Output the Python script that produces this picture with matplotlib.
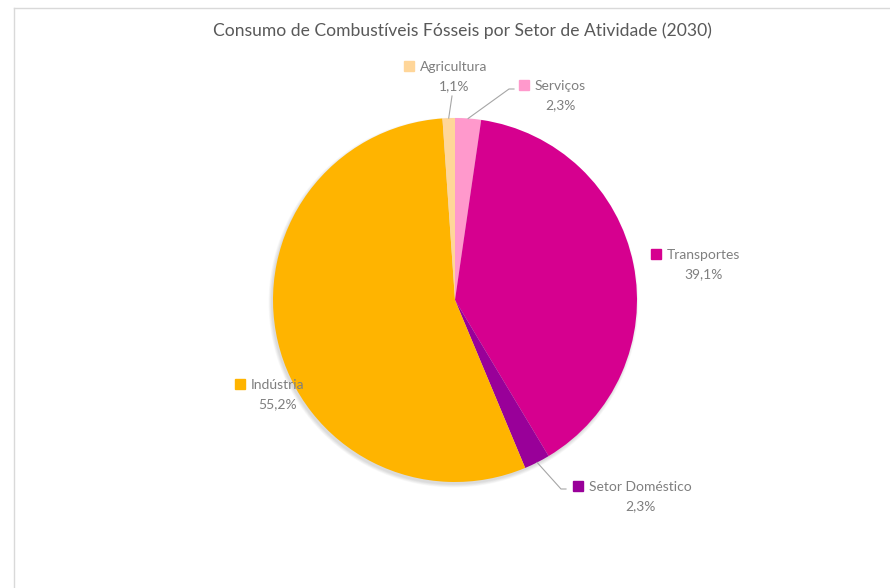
import matplotlib.pyplot as plt
from matplotlib.patches import Circle
import numpy as np

# Consumo por setor em 2030 (percentagem)
setores = ["Serviços", "Transportes", "Setor Doméstico", "Indústria", "Agricultura"]
valores = [2.3, 39.1, 2.3, 55.2, 1.1]
cores = ["#FF99CC", "#D6008F", "#990099", "#FFB400", "#FFD699"]
titulo = "Consumo de Combustíveis Fósseis por Setor de Atividade (2030)"

# posicao dos rotulos (pixeis, origem no canto superior esquerdo)
pos_rotulos = {
    "Serviços": (524, 85),
    "Transportes": (656, 254),
    "Setor Doméstico": (578, 486),
    "Indústria": (240, 384),
    "Agricultura": (409, 66),
}
# setores com linha de ligacao: ponto do cotovelo
cotovelos = {
    "Serviços": [(509, 89), (514, 89)],
    "Agricultura": [(452, 96)],
    "Setor Doméstico": [(561, 489), (566, 489)],
}

W, H = 890, 588
CX, CY, R = 455, 300, 182
FONTE = "Lato"
CINZA = "#7F7F7F"


def px(x, y):
    # converte pixeis (y para baixo) em coordenadas do eixo
    return x, H - y


fig = plt.figure(figsize=(W / 100, H / 100), dpi=100)
ax = fig.add_axes([0, 0, 1, 1])
ax.set_xlim(0, W)
ax.set_ylim(0, H)
ax.set_aspect("equal")
ax.axis("off")

# moldura do grafico
ax.plot([14, W + 5], [H - 8, H - 8], color="#D9D9D9", lw=1)
ax.plot([14, 14], [H - 8, -5], color="#D9D9D9", lw=1)

# sombra suave
for i in range(6):
    ax.add_patch(Circle(px(CX - 1.5, CY + 2.5), R + 3 - i * 0.6,
                        color="black", alpha=0.025, lw=0, zorder=1))

wedges, _ = ax.pie(valores, colors=cores, startangle=90, counterclock=False,
                   center=px(CX, CY), radius=R, frame=True,
                   wedgeprops=dict(linewidth=0, zorder=2))
ax.set_xlim(0, W)
ax.set_ylim(0, H)
ax.axis("off")

fig.canvas.draw()
renderer = fig.canvas.get_renderer()

for w, nome, cor, v in zip(wedges, setores, cores, valores):
    sx, sy = pos_rotulos[nome]
    ax.plot(*px(sx, sy), marker="s", ms=6.5, color=cor, mec=cor, zorder=5)
    t = ax.text(*px(sx + 11, sy + 1), nome, ha="left", va="center",
                fontsize=10, color=CINZA, family=FONTE, zorder=5)
    bb = t.get_window_extent(renderer)
    meio = (bb.x0 + bb.x1) / 2
    ax.text(*px(meio, sy + 20), f"{v:.1f}".replace(".", ",") + "%",
            ha="center", va="center", fontsize=10, color=CINZA,
            family=FONTE, zorder=5)
    if nome in cotovelos:
        ang = np.deg2rad((w.theta1 + w.theta2) / 2)
        x0 = CX + R * np.cos(ang)
        y0 = CY - R * np.sin(ang)
        pts = [(x0, y0)] + cotovelos[nome]
        xs = [p[0] for p in pts]
        ys = [H - p[1] for p in pts]
        ax.plot(xs, ys, color="#A6A6A6", lw=0.8, zorder=4)

ax.text(*px(462, 31), titulo, ha="center", va="center", fontsize=12.6,
        color="#595959", family=FONTE)

fig.savefig("out.png", dpi=100, facecolor="white")
